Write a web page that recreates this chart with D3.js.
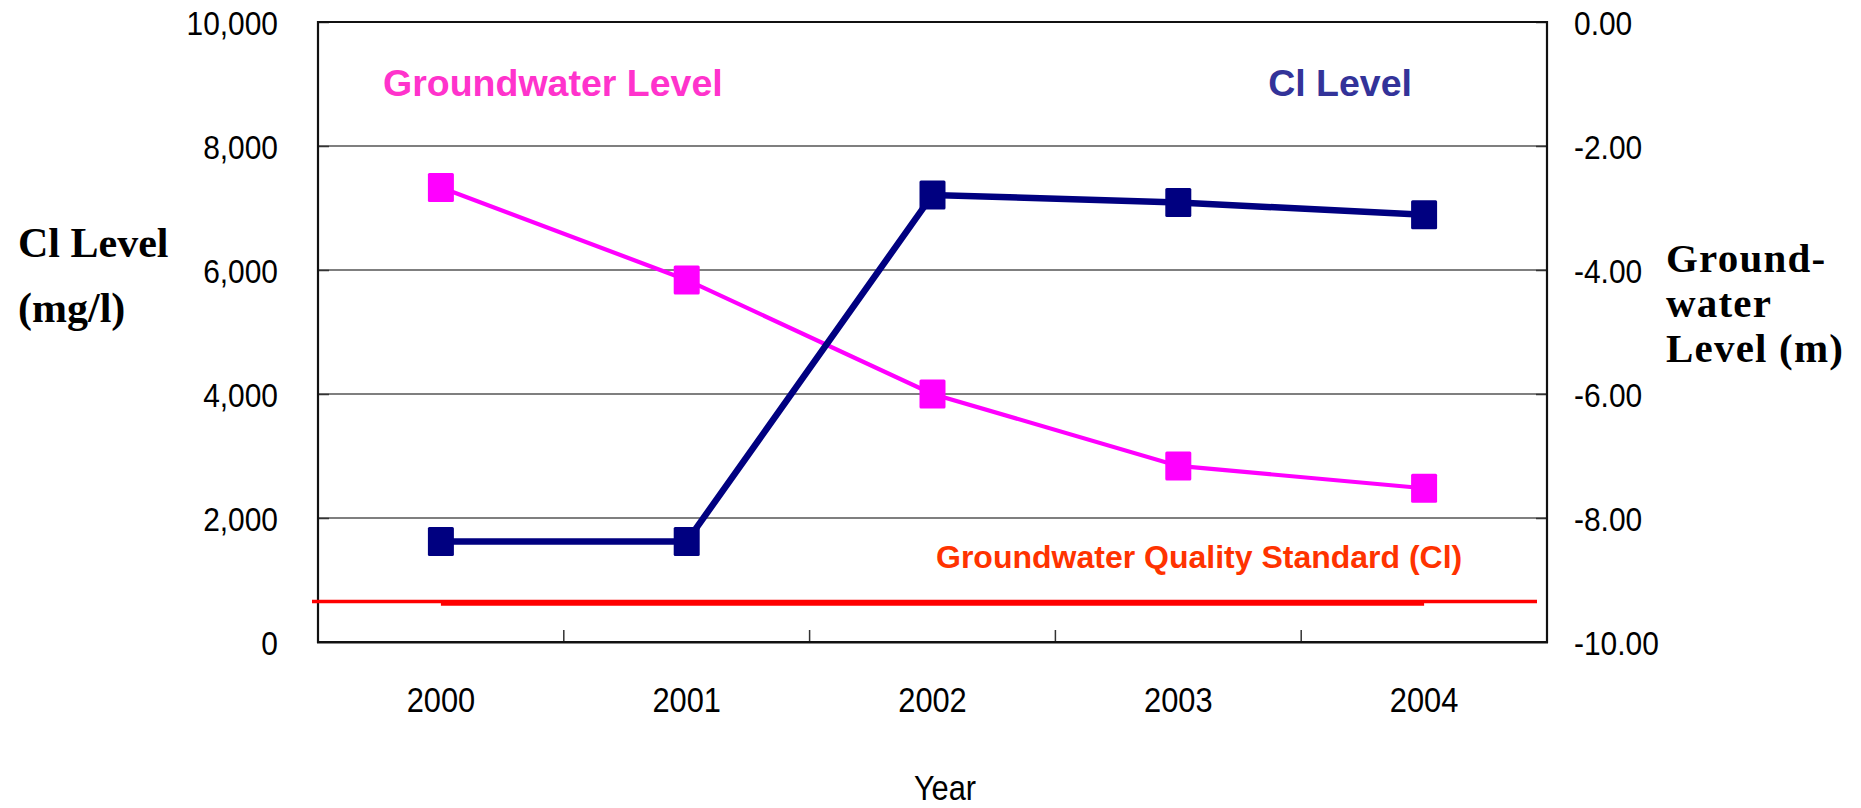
<!DOCTYPE html>
<html>
<head>
<meta charset="utf-8">
<script src="https://cdn.jsdelivr.net/npm/d3@7"></script>
<style>
  html, body { margin: 0; padding: 0; background: #fff; }
  svg { display: block; font-family: "Liberation Sans", Arial, sans-serif; }
</style>
</head>
<body>
<svg id="chart" width="1861" height="808"></svg>
<script>
// ---- data ----
const years = ["2000", "2001", "2002", "2003", "2004"];
const clLevel = [1620, 1620, 7210, 7090, 6890];            // mg/l (left axis)
const groundwaterLevel = [-2.67, -4.16, -6.00, -7.16, -7.52]; // m (right axis)
const standardSeries = [630, 630, 630, 630, 630];        // Cl standard drawn across years
const standardRule = 655;                                  // full-width standard rule
const leftTicks = [0, 2000, 4000, 6000, 8000, 10000];
const rightTicks = [0, -2, -4, -6, -8, -10];

// ---- layout ----
const L = 318, R = 1547, T = 22, B = 642;
const svg = d3.select("#chart");
const sans = "'Liberation Sans', Arial, sans-serif";
const serif = "'Liberation Serif', 'Times New Roman', serif";
const loc = d3.formatLocale({decimal: ".", thousands: ",", grouping: [3], currency: ["$", ""], minus: "-"});

const x = d3.scaleBand().domain(years).range([L, R]).padding(0);
const yL = d3.scaleLinear().domain([0, 10000]).range([B, T]);
const yR = d3.scaleLinear().domain([-10, 0]).range([B, T]);
const cx = d => x(d) + x.bandwidth() / 2;

// gridlines
svg.append("g").selectAll("line").data(leftTicks.filter(v => v > 0 && v < 10000)).join("line")
  .attr("x1", L).attr("x2", R).attr("y1", d => yL(d)).attr("y2", d => yL(d))
  .attr("stroke", "#555").attr("stroke-width", 1.5);

// left axis
const sx = 0.88;
const gL = svg.append("g").attr("transform", `translate(${L},0)`)
  .call(d3.axisLeft(yL).tickValues(leftTicks).tickFormat(loc.format(",d")).tickSizeInner(-11).tickSizeOuter(0).tickPadding(40 / sx));
gL.select(".domain").remove();
gL.selectAll(".tick line").attr("stroke", "#333").attr("stroke-width", 1.5);
gL.selectAll(".tick text").style("font-family", sans).style("font-size", "34px").attr("fill", "#000").attr("dy", "0.36em")
  .attr("transform", `scale(${sx},1)`);

// right axis
const gR = svg.append("g").attr("transform", `translate(${R},0)`)
  .call(d3.axisRight(yR).tickValues(rightTicks).tickFormat(loc.format(".2f")).tickSizeInner(-11).tickSizeOuter(0).tickPadding(27 / sx));
gR.select(".domain").remove();
gR.selectAll(".tick line").attr("stroke", "#333").attr("stroke-width", 1.5);
gR.selectAll(".tick text").style("font-family", sans).style("font-size", "34px").attr("fill", "#000").attr("dy", "0.36em")
  .attr("transform", `scale(${sx},1)`);

// bottom axis (labels)
const gB = svg.append("g").attr("transform", `translate(0,${B})`)
  .call(d3.axisBottom(x).tickSize(0).tickPadding(0));
gB.select(".domain").remove();
gB.selectAll(".tick text").style("font-family", sans).style("font-size", "35px").attr("fill", "#000")
  .attr("y", 70).attr("dy", "0").attr("transform", `scale(${sx},1)`);

// category boundary ticks (inward)
svg.append("g").selectAll("line").data(years.slice(1)).join("line")
  .attr("x1", d => x(d)).attr("x2", d => x(d)).attr("y1", B).attr("y2", B - 12)
  .attr("stroke", "#333").attr("stroke-width", 1.5);

// frame
svg.append("line").attr("x1", L).attr("x2", R).attr("y1", T).attr("y2", T).attr("stroke", "#111").attr("stroke-width", 2.2);
svg.append("line").attr("x1", L).attr("x2", L).attr("y1", T - 1).attr("y2", B + 1).attr("stroke", "#111").attr("stroke-width", 2.2);
svg.append("line").attr("x1", R).attr("x2", R).attr("y1", T - 1).attr("y2", B + 1).attr("stroke", "#111").attr("stroke-width", 2.2);
svg.append("line").attr("x1", L - 1).attr("x2", R + 1).attr("y1", B + 1).attr("y2", B + 1).attr("stroke", "#888").attr("stroke-width", 2);
svg.append("line").attr("x1", L - 1).attr("x2", R + 1).attr("y1", B).attr("y2", B).attr("stroke", "#111").attr("stroke-width", 2.2);

// standard lines
svg.append("line").attr("x1", 312).attr("x2", 1537).attr("y1", yL(standardRule)).attr("y2", yL(standardRule))
  .attr("stroke", "#ff0000").attr("stroke-width", 3.5);
svg.append("path").datum(standardSeries)
  .attr("d", d3.line().x((d, i) => cx(years[i])).y(d => yL(d)))
  .attr("fill", "none").attr("stroke", "#ff0000").attr("stroke-width", 5.5);

// groundwater series (magenta)
svg.append("path").datum(groundwaterLevel)
  .attr("d", d3.line().x((d, i) => cx(years[i])).y(d => yR(d)))
  .attr("fill", "none").attr("stroke", "#ff00ff").attr("stroke-width", 4.2);
svg.append("g").selectAll("rect").data(groundwaterLevel).join("rect")
  .attr("x", (d, i) => cx(years[i]) - 13).attr("y", d => yR(d) - 14.5)
  .attr("width", 26).attr("height", 29).attr("rx", 1.5).attr("fill", "#ff00ff");

// Cl series (navy)
svg.append("path").datum(clLevel)
  .attr("d", d3.line().x((d, i) => cx(years[i])).y(d => yL(d)))
  .attr("fill", "none").attr("stroke", "#000080").attr("stroke-width", 6.5);
svg.append("g").selectAll("rect").data(clLevel).join("rect")
  .attr("x", (d, i) => cx(years[i]) - 13).attr("y", d => yL(d) - 14.5)
  .attr("width", 26).attr("height", 29).attr("rx", 1.5).attr("fill", "#000080");

// in-plot labels
svg.append("text").attr("x", 383).attr("y", 96).style("font-family", sans).style("font-size", "37.5px").style("font-weight", "bold")
  .attr("fill", "#ff33cc").text("Groundwater Level");
svg.append("text").attr("x", 1412).attr("y", 96).style("font-family", sans).style("font-size", "37.5px").style("font-weight", "bold")
  .attr("fill", "#333399").attr("text-anchor", "end").text("Cl Level");
svg.append("text").attr("x", 936).attr("y", 568).style("font-family", sans).style("font-size", "32px").style("font-weight", "bold")
  .attr("fill", "#ff3300").text("Groundwater Quality Standard (Cl)");

// axis titles
svg.append("text").attr("x", 18).attr("y", 257).style("font-size", "42px").style("font-weight", "bold")
  .style("font-family", serif).attr("fill", "#000").text("Cl Level");
svg.append("text").attr("x", 18).attr("y", 322).style("font-size", "42px").style("font-weight", "bold")
  .style("font-family", serif).attr("fill", "#000").text("(mg/l)");
const rt = ["Ground-", "water", "Level (m)"];
svg.append("g").selectAll("text").data(rt).join("text")
  .attr("x", 1666).attr("y", (d, i) => 272 + i * 45).style("font-size", "41px").style("font-weight", "bold")
  .style("letter-spacing", "1.2px").style("font-family", serif).attr("fill", "#000").text(d => d);

svg.append("text").attr("x", 945 / sx).attr("y", 800).style("font-family", sans).style("font-size", "35px").attr("text-anchor", "middle")
  .attr("transform", `scale(${sx},1)`).attr("fill", "#000").text("Year");
</script>
</body>
</html>
